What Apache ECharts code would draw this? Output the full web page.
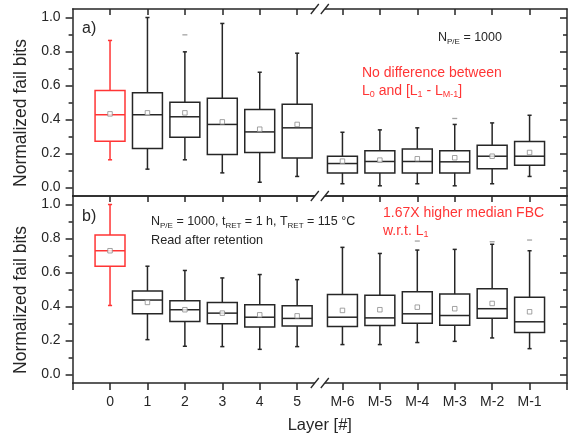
<!DOCTYPE html>
<html><head><meta charset="utf-8">
<script src="https://cdn.jsdelivr.net/npm/echarts@6/dist/echarts.min.js"></script>
<style>html,body{margin:0;padding:0;background:#fff}#c{width:570px;height:441px}</style>
</head><body><div id="c"></div>
<script>
// ---------------- data ----------------
const categories = ['0','1','2','3','4','5','M-6','M-5','M-4','M-3','M-2','M-1'];
const yTicks = [0, 0.2, 0.4, 0.6, 0.8, 1.0];
const yMinorTicks = [0.1, 0.3, 0.5, 0.7, 0.9];

// panel a) N_P/E = 1000
const aMin    = [0.163,0.108,0.163,0.086,0.031,0.065, 0.022,0.010,0.022,0.010,0.022,0.065];
const aQ1     = [0.272,0.229,0.296,0.194,0.206,0.173, 0.086,0.086,0.086,0.086,0.110,0.131];
const aMedian = [0.428,0.428,0.416,0.371,0.327,0.351, 0.141,0.153,0.153,0.151,0.184,0.184];
const aQ3     = [0.571,0.557,0.502,0.525,0.459,0.490, 0.184,0.216,0.227,0.216,0.249,0.271];
const aMax    = [0.865,1.000,0.798,0.965,0.678,0.790, 0.325,0.339,0.351,0.371,0.380,0.425];
const aMean   = [0.433,0.439,0.439,0.386,0.343,0.371, 0.155,0.161,0.169,0.175,0.184,0.206];
const aOutlierCat = [2, 9];
const aOutlierVal = [0.898, 0.406];

// panel b) after retention
const bMin    = [0.406,0.205,0.166,0.164,0.148,0.164, 0.176,0.176,0.188,0.195,0.215,0.152];
const bQ1     = [0.637,0.357,0.312,0.298,0.280,0.286, 0.282,0.288,0.302,0.290,0.331,0.247];
const bMedian = [0.728,0.438,0.381,0.361,0.337,0.330, 0.337,0.333,0.357,0.347,0.387,0.310];
const bQ3     = [0.821,0.491,0.434,0.424,0.411,0.405, 0.470,0.466,0.487,0.473,0.505,0.454];
const bMax    = [1.000,0.637,0.612,0.568,0.588,0.558, 0.748,0.712,0.732,0.736,0.766,0.728];
const bMean   = [0.728,0.424,0.381,0.361,0.351,0.345, 0.377,0.381,0.396,0.387,0.418,0.369];
const bOutlierCat = [8, 10, 11];
const bOutlierVal = [0.785, 0.781, 0.791];

// ---------------- layout / style ----------------
const BREAK_AFTER = 5, BREAK_GAP = 0.21;
const xPos = categories.map((c, i) => i + (i > BREAK_AFTER ? BREAK_GAP : 0));
const X_MIN = -1, X_MAX = xPos[xPos.length - 1] + 1;
const Y_MIN = -0.05, Y_MAX = 1.05;
const RED = '#ff3535', DARK = '#262626', GRAY = '#8c8c8c';
const FONT = '"Liberation Sans", Arial, sans-serif';
const HIGHLIGHT = 0;
const BOX_W = 0.8, CAP_W = 0.11;
const lineStyle = {color: DARK, width: 1.5};

function xAxes(g, isBottom) {
  const base = {gridIndex: g, type: 'value', min: X_MIN, max: X_MAX, splitLine: {show: false},
    axisLine: {show: true, onZero: false, lineStyle}};
  return [
    Object.assign({}, base, {position: 'bottom',
      axisTick: isBottom ? {show: true, inside: false, length: 7, customValues: [X_MIN, ...xPos, X_MAX], lineStyle} : {show: false},
      axisLabel: isBottom ? {show: true, customValues: xPos, margin: 12, fontSize: 14, color: DARK, fontFamily: FONT,
        formatter: v => { const i = xPos.findIndex(p => Math.abs(p - v) < 1e-6); return i >= 0 ? categories[i] : ''; }} : {show: false}}),
    Object.assign({}, base, {position: 'top',
      axisTick: {show: true, inside: true, length: 6, customValues: xPos, lineStyle},
      axisLabel: {show: false}})
  ];
}
function yAxes(g) {
  const base = {gridIndex: g, type: 'value', min: Y_MIN, max: Y_MAX, splitLine: {show: false}, axisLabel: {show: false}};
  return [
    Object.assign({}, base, {position: 'left', axisLine: {show: true, onZero: false, lineStyle},
      axisTick: {show: true, length: 7, customValues: yTicks, lineStyle},
      axisLabel: {show: true, customValues: yTicks, formatter: v => v.toFixed(1), margin: 12, fontSize: 14, color: DARK, fontFamily: FONT}}),
    Object.assign({}, base, {position: 'left', axisLine: {show: false, onZero: false},
      axisTick: {show: true, length: 4, customValues: yMinorTicks, lineStyle}}),
    Object.assign({}, base, {position: 'right', axisLine: {show: true, onZero: false, lineStyle},
      axisTick: {show: true, inside: true, length: 7, customValues: yTicks, lineStyle}}),
    Object.assign({}, base, {position: 'right', axisLine: {show: false, onZero: false},
      axisTick: {show: true, inside: true, length: 4, customValues: yMinorTicks, lineStyle}})
  ];
}

function renderBox(params, api) {
  const x = api.value(0);
  const c = i => api.coord([x, api.value(i)]);
  const pMin = c(1), pQ1 = c(2), pMed = c(3), pQ3 = c(4), pMax = c(5);
  const w = api.size([BOX_W, 0])[0];
  const cw = api.size([CAP_W, 0])[0];
  const color = api.value(6) === HIGHLIGHT ? RED : DARK;
  const st = {stroke: color, lineWidth: 1.5, fill: 'none'};
  const cx = pMed[0];
  const ln = (x1, y1, x2, y2) => ({type: 'line', shape: {x1, y1, x2, y2}, style: st});
  return {type: 'group', children: [
    ln(cx, pQ3[1], cx, pMax[1]),
    ln(cx, pQ1[1], cx, pMin[1]),
    ln(cx - cw / 2, pMax[1], cx + cw / 2, pMax[1]),
    ln(cx - cw / 2, pMin[1], cx + cw / 2, pMin[1]),
    {type: 'rect', shape: {x: cx - w / 2, y: pQ3[1], width: w, height: pQ1[1] - pQ3[1]}, style: {stroke: color, lineWidth: 1.5, fill: 'none'}},
    ln(cx - w / 2, pMed[1], cx + w / 2, pMed[1])
  ]};
}

function panelSeries(p, mn, q1, med, q3, mx, mean, oc, ov) {
  const xi = 2 * p, yi = 4 * p;
  return [
    {type: 'custom', xAxisIndex: xi, yAxisIndex: yi, renderItem: renderBox, silent: true,
      encode: {x: 0, y: [1, 2, 3, 4, 5]},
      data: categories.map((c, i) => [xPos[i], mn[i], q1[i], med[i], q3[i], mx[i], i])},
    {type: 'scatter', xAxisIndex: xi, yAxisIndex: yi, silent: true, symbol: 'rect', symbolSize: 4.5, z: 5,
      itemStyle: {color: '#fff', borderColor: GRAY, borderWidth: 1},
      data: mean.map((v, i) => [xPos[i], v])},
    {type: 'scatter', xAxisIndex: xi, yAxisIndex: yi, silent: true, symbol: 'rect', symbolSize: [5, 1.3], z: 5,
      itemStyle: {color: GRAY},
      data: oc.map((ci, k) => [xPos[ci], ov[k]])}
  ];
}

const chart = echarts.init(document.getElementById('c'), null, {renderer: 'canvas'});
const option = {
  animation: false,
  backgroundColor: '#fff',
  grid: [{left: 72.6, right: 3, top: 9, height: 187}, {left: 72.6, right: 3, top: 196, height: 187}],
  xAxis: [...xAxes(0, false), ...xAxes(1, true)],
  yAxis: [...yAxes(0), ...yAxes(1)],
  series: [
    ...panelSeries(0, aMin, aQ1, aMedian, aQ3, aMax, aMean, aOutlierCat, aOutlierVal),
    ...panelSeries(1, bMin, bQ1, bMedian, bQ3, bMax, bMean, bOutlierCat, bOutlierVal)
  ]
};
chart.setOption(option);

// decorations: axis breaks, titles, annotations
const breakX = chart.convertToPixel({xAxisIndex: 0}, (xPos[BREAK_AFTER] + xPos[BREAK_AFTER + 1]) / 2);
const yTop = chart.convertToPixel({yAxisIndex: 0}, Y_MAX);
const yMid = chart.convertToPixel({yAxisIndex: 0}, Y_MIN);
const yBot = chart.convertToPixel({yAxisIndex: 4}, Y_MIN);
const graphics = [];
[yTop, yMid, yBot].forEach(y => {
  graphics.push({type: 'polygon', z: 100, shape: {points: [[breakX - 9, y + 5], [breakX - 1, y - 5], [breakX + 9, y - 5], [breakX + 1, y + 5]]}, style: {fill: '#fff'}});
  graphics.push({type: 'line', z: 101, shape: {x1: breakX - 9, y1: y + 5, x2: breakX - 1, y2: y - 5}, style: {stroke: DARK, lineWidth: 1.3}});
  graphics.push({type: 'line', z: 101, shape: {x1: breakX + 1, y1: y + 5, x2: breakX + 9, y2: y - 5}, style: {stroke: DARK, lineWidth: 1.3}});
});
const sub = {fontSize: 8, lineHeight: 8, verticalAlign: 'bottom', fontFamily: FONT};
function txt(x, y, text, size, color, rich, extra) {
  return Object.assign({type: 'text', z: 50, x, y, style: {text, fontSize: size, fill: color, fontFamily: FONT,
    verticalAlign: 'middle', align: 'left', rich: rich || {}}}, extra || {});
}
const richBlack = {n: {fontSize: 12.5, lineHeight: 15, fontFamily: FONT, fill: DARK}, s: Object.assign({fill: DARK}, sub)};
const richRed = {n: {fontSize: 14, lineHeight: 17, fontFamily: FONT, fill: RED}, s: Object.assign({fill: RED}, sub, {fontSize: 9, lineHeight: 9})};
graphics.push(
  txt(82, 29, 'a)', 16, DARK),
  txt(82, 217, 'b)', 16, DARK),
  txt(438, 38, '{n|N}{s|P/E}{n| = 1000}', 12.5, DARK, richBlack),
  txt(362, 73, 'No difference between', 14, RED),
  txt(362, 91, '{n|L}{s|0}{n| and [L}{s|1}{n| - L}{s|M-1}{n|]}', 14, RED, richRed),
  txt(151, 222, '{n|N}{s|P/E}{n| = 1000, t}{s|RET}{n| = 1 h, T}{s|RET}{n| = 115 °C}', 12.5, DARK, richBlack),
  txt(151, 240, 'Read after retention', 12.7, DARK),
  txt(383, 213, '1.67X higher median FBC', 14, RED),
  txt(383, 231, '{n|w.r.t. L}{s|1}', 14, RED, richRed),
  {type: 'text', z: 50, x: 21, y: 113, rotation: Math.PI / 2, style: {text: 'Normalized fail bits', fontSize: 17.5, fill: DARK, fontFamily: FONT, align: 'center', verticalAlign: 'middle'}},
  {type: 'text', z: 50, x: 21, y: 300, rotation: Math.PI / 2, style: {text: 'Normalized fail bits', fontSize: 17.5, fill: DARK, fontFamily: FONT, align: 'center', verticalAlign: 'middle'}},
  {type: 'text', z: 50, x: (breakX), y: 425, style: {text: 'Layer [#]', fontSize: 16.5, fill: DARK, fontFamily: FONT, align: 'center', verticalAlign: 'middle'}}
);
chart.setOption({graphic: graphics});
</script></body></html>
